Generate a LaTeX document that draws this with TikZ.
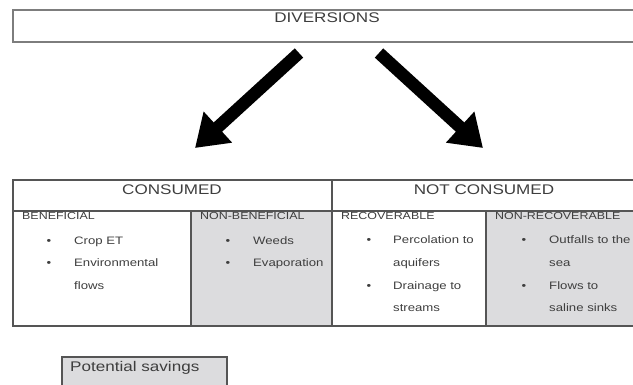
\documentclass[tikz,border=0pt]{standalone}
\usepackage{fontspec}
\setmainfont{Liberation Sans}[FakeStretch=1.22]
\usetikzlibrary{arrows.meta}
\definecolor{cellgray}{RGB}{220,220,222}
\definecolor{linegray}{RGB}{85,85,85}
\definecolor{boxgray}{RGB}{125,125,125}
\definecolor{txtgray}{RGB}{62,62,62}
\begin{document}
\begin{tikzpicture}[x=1pt,y=-1pt,
  hdr/.style={font=\fontsize{14}{16}\selectfont, text=txtgray, inner sep=0pt, anchor=base},
  sub/.style={font=\fontsize{10.2}{12}\selectfont, text=txtgray, inner sep=0pt, anchor=base west},
  item/.style={font=\fontsize{10.8}{12}\selectfont, text=txtgray, inner sep=0pt, anchor=base west},
  bul/.style={font=\fontsize{10.8}{12}\selectfont, text=txtgray, inner sep=0pt, anchor=base},
  grid/.style={draw=linegray, line width=1.2pt},
  bigarrow/.style={line width=12.5pt, -{Triangle[length=31pt,width=40pt]}}]
\useasboundingbox (0,0) rectangle (633,385);
\begin{scope}
\clip (0,0) rectangle (633,385);
% top box
\draw[draw=boxgray, line width=1.5pt] (13,10) rectangle (670,42);
\node[hdr] (div) at (327,23) {DIVERSIONS};
% arrows
\coordinate (la) at (299,53);
\coordinate (lb) at (195,148);
\coordinate (ra) at (379,53);
\coordinate (rb) at (483,148);
\draw[bigarrow] (la) -- (lb);
\draw[bigarrow] (ra) -- (rb);
% table fills
\fill[cellgray] (191,211) rectangle (332,326);
\fill[cellgray] (486,211) rectangle (645,326);
% table lines
\draw[grid] (13,180) rectangle (645,326);
\draw[grid] (13,211) -- (645,211);
\draw[grid] (332,180) -- (332,326);
\draw[grid] (191,211) -- (191,326);
\draw[grid] (486,211) -- (486,326);
% headers
\node[hdr] (cons) at (172,195) {CONSUMED};
\node[hdr] (ncons) at (484,195) {NOT CONSUMED};
\node[sub] (ben) at (22,219.5) {BENEFICIAL};
\node[sub] (nben) at (200,219.5) {NON-BENEFICIAL};
\node[sub] (rec) at (341,219.5) {RECOVERABLE};
\node[sub] (nrec) at (495,219.5) {NON-RECOVERABLE};
% beneficial
\node[bul] (b1) at (49,245) {\textbullet};
\node[item] (t1) at (74,245) {Crop ET};
\node[bul] (b2) at (49,267) {\textbullet};
\node[item] (t2) at (74,267) {Environmental};
\node[item] (t3) at (74,290) {flows};
% non-beneficial
\node[bul] (b3) at (228,245) {\textbullet};
\node[item] (t4) at (253,245) {Weeds};
\node[bul] (b4) at (228,267) {\textbullet};
\node[item] (t5) at (253,267) {Evaporation};
% recoverable
\node[bul] (b5) at (369,244) {\textbullet};
\node[item] (t6) at (393,244) {Percolation to};
\node[item] (t7) at (393,267) {aquifers};
\node[bul] (b6) at (369,290) {\textbullet};
\node[item] (t8) at (393,290) {Drainage to};
\node[item] (t9) at (393,312) {streams};
% non-recoverable
\node[bul] (b7) at (524,244) {\textbullet};
\node[item] (t10) at (549,244) {Outfalls to the};
\node[item] (t11) at (549,267) {sea};
\node[bul] (b8) at (524,290) {\textbullet};
\node[item] (t12) at (549,290) {Flows to};
\node[item] (t13) at (549,312) {saline sinks};
% legend
\draw[fill=cellgray, draw=linegray, line width=1.2pt] (62,357) rectangle (227,400);
\node[hdr, anchor=base west] (pot) at (70,371.5) {Potential savings};
\end{scope}
\end{tikzpicture}
\end{document}
